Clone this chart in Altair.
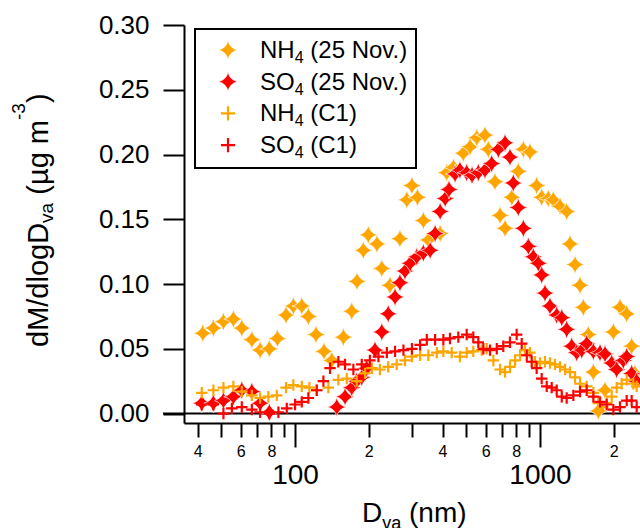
import altair as alt
import pandas as pd

# Mass size distributions (dM/dlogDva, ug m-3) versus vacuum aerodynamic diameter (nm)
nh4_nov_d = [42.0, 46.4, 51.0, 56.0, 60.6, 66.6, 72.0, 78.5, 84.7, 91.9, 98.4, 106.5, 113.3,
             121.8, 131.3, 141.2, 157.5, 170.4, 179, 190, 199, 216, 226, 244, 268, 286, 300,
             316, 334, 350, 391, 416, 443, 486, 518, 552, 596, 615, 655, 687, 720, 767, 815,
             855, 910, 969, 1016, 1081, 1133, 1207, 1285, 1326, 1390, 1457, 1502, 1574, 1651,
             1730, 1842, 1992, 2121, 2259, 2367, 2442]
nh4_nov_v = [0.062, 0.066, 0.071, 0.073, 0.066, 0.057, 0.049, 0.050, 0.058, 0.076, 0.083, 0.083,
             0.075, 0.061, 0.048, 0.041, 0.059, 0.079, 0.102, 0.126, 0.138, 0.131, 0.112, 0.099,
             0.135, 0.165, 0.176, 0.167, 0.149, 0.134, 0.139, 0.186, 0.190, 0.201, 0.206, 0.213,
             0.215, 0.204, 0.179, 0.153, 0.143, 0.167, 0.187, 0.204, 0.202, 0.176, 0.167, 0.166,
             0.165, 0.160, 0.156, 0.131, 0.115, 0.099, 0.082, 0.061, 0.032, 0.002, 0.018, 0.063,
             0.082, 0.077, 0.052, 0.031]

so4_nov_d = [41.6, 46.4, 51.0, 56.0, 60.6, 66.6, 72.0, 78.5, 148, 160, 170.4, 178.6, 187.2, 196,
             212, 226, 240, 256, 268, 281, 295, 314, 334, 356, 373, 391, 410, 425, 450, 471, 502,
             528, 560, 596, 635, 676, 720, 754, 778, 815, 855, 896, 939, 984, 1016, 1048, 1098,
             1170, 1227, 1285, 1347, 1412, 1480, 1551, 1651, 1758, 1842, 1962, 2056, 2188, 2259,
             2367, 2481]
so4_nov_v = [0.008, 0.008, 0.010, 0.013, 0.018, 0.017, 0.008, 0.001, 0.005, 0.013, 0.020, 0.025,
             0.028, 0.035, 0.049, 0.063, 0.077, 0.090, 0.101, 0.110, 0.116, 0.121, 0.124, 0.126,
             0.139, 0.156, 0.166, 0.173, 0.185, 0.188, 0.186, 0.184, 0.186, 0.188, 0.193, 0.204,
             0.209, 0.198, 0.178, 0.159, 0.143, 0.129, 0.121, 0.116, 0.107, 0.093, 0.083, 0.076,
             0.074, 0.065, 0.052, 0.047, 0.049, 0.054, 0.048, 0.047, 0.046, 0.039, 0.034, 0.041,
             0.044, 0.031, 0.025]

nh4_c1_d = [41.6, 46.4, 51.0, 56.0, 60.6, 66.6, 72.0, 77.8, 84.2, 91.9, 98.4, 106.5, 114.4, 122.6,
            136.7, 150.2, 162.6, 178.6, 193, 206, 222, 240, 260, 281, 300, 324, 350, 379, 403,
            436, 471, 502, 534, 578, 606, 645, 687, 720, 754, 791, 829, 869, 910, 954, 1000, 1048,
            1098, 1151, 1207, 1265, 1326, 1390, 1457, 1551, 1651, 1730, 1805, 1872, 1962, 2056,
            2155, 2259, 2404, 2481]
nh4_c1_v = [0.016, 0.018, 0.020, 0.021, 0.017, 0.014, 0.012, 0.013, 0.014, 0.020, 0.022, 0.021,
            0.020, 0.018, 0.020, 0.026, 0.027, 0.025, 0.031, 0.035, 0.034, 0.036, 0.038, 0.041,
            0.044, 0.045, 0.045, 0.047, 0.048, 0.047, 0.044, 0.047, 0.048, 0.049, 0.050, 0.041,
            0.034, 0.032, 0.036, 0.041, 0.045, 0.049, 0.047, 0.040, 0.039, 0.040, 0.039, 0.038,
            0.036, 0.034, 0.032, 0.028, 0.023, 0.021, 0.016, 0.008, 0.005, 0.008, 0.013, 0.020,
            0.023, 0.026, 0.023, 0.021]

so4_c1_d = [41.6, 46.4, 51.0, 55.2, 60.6, 66.6, 72.0, 78.5, 85.5, 92.5, 100, 106.5, 113.3, 122.6,
            130.5, 138.9, 150.2, 160, 173, 187.2, 202, 219, 237, 256, 277, 300, 324, 345, 373,
            403, 429, 464, 502, 534, 560, 587, 625, 666, 708, 754, 803, 842, 883, 925, 969, 1016,
            1065, 1116, 1170, 1227, 1285, 1368, 1457, 1551, 1651, 1758, 1872, 1992, 2121, 2259,
            2367, 2481]
so4_c1_v = [0.007, 0.007, 0.000, 0.004, 0.005, 0.003, 0.001, 0.000, 0.001, 0.004, 0.007, 0.009,
            0.012, 0.018, 0.025, 0.035, 0.040, 0.038, 0.034, 0.038, 0.041, 0.044, 0.047, 0.048,
            0.049, 0.050, 0.053, 0.057, 0.057, 0.057, 0.058, 0.059, 0.061, 0.059, 0.055, 0.050,
            0.049, 0.050, 0.052, 0.055, 0.061, 0.054, 0.045, 0.040, 0.035, 0.027, 0.021, 0.020,
            0.018, 0.013, 0.012, 0.014, 0.017, 0.018, 0.013, 0.009, 0.007, 0.003, 0.005, 0.010,
            0.010, 0.005]

x_ticks = [40, 50, 60, 70, 80, 90, 100, 200, 300, 400, 500, 600, 700, 800, 900, 1000, 2000]
y_ticks = [0.00, 0.05, 0.10, 0.15, 0.20, 0.25, 0.30]

ORANGE = "#FFA500"
RED = "#FF0000"
FONT = "Liberation Sans"
STAR = "M0,-1Q0.18,-0.18 1,0Q0.18,0.18 0,1Q-0.18,0.18 -1,0Q-0.18,-0.18 0,-1Z"
PLUS = "M-1,0H1M0,-1V1"
STAR_SIZE = 370
PLUS_SIZE = 130

W, H = 456, 398

x_scale = alt.Scale(type="log", domain=[35.2, 2560], nice=False)
y_scale = alt.Scale(domain=[-0.0073, 0.30], nice=False, zero=False)

major = "datum.value == 100 || datum.value == 1000"
x_axis = alt.Axis(
    values=x_ticks,
    title=None,
    grid=False,
    domainColor="black",
    domainWidth=2,
    tickColor="black",
    tickWidth=2,
    tickSize={"condition": {"test": major, "value": 24}, "value": 14},
    labelExpr=("datum.value == 100 || datum.value == 1000 ? toString(datum.value) : "
               "(indexof([40, 60, 80, 200, 400, 600, 800, 2000], datum.value) >= 0 ? "
               "substring(toString(datum.value), 0, 1) : '')"),
    labelFont=FONT,
    labelColor="black",
    labelFontSize={"condition": {"test": major, "value": 28}, "value": 16},
    labelBaseline="middle",
    labelPadding={"condition": {"test": major, "value": 28}, "value": 14},
    labelOverlap=False,
    labelFlush=False,
    labelBound=False,
)
y_axis = alt.Axis(
    values=y_ticks,
    format=".2f",
    title=None,
    grid=False,
    domainColor="black",
    domainWidth=2,
    tickColor="black",
    tickWidth=2,
    tickSize=21,
    labelFont=FONT,
    labelColor="black",
    labelFontSize=26,
    labelPadding=14,
)


def point_mark(data, shape, color, size, star):
    if star:
        return alt.Chart(data).mark_point(shape=shape, filled=True, fill=color, stroke="white",
                                          strokeWidth=0.7, size=size, opacity=1)
    return alt.Chart(data).mark_point(shape=shape, filled=False, stroke=color,
                                      strokeWidth=2.2, size=size, opacity=1)


def series(d, v, shape, color, size, star):
    df = pd.DataFrame({"d": d, "v": v})
    return point_mark(df, shape, color, size, star).encode(
        x=alt.X("d:Q", scale=x_scale, axis=x_axis),
        y=alt.Y("v:Q", scale=y_scale, axis=y_axis),
    )


one = pd.DataFrame({"k": [0]})


def text(t, x, y, size, angle=0):
    return alt.Chart(one).mark_text(
        text=t, font=FONT, fontSize=size, angle=angle, align="left",
        baseline="alphabetic", color="black"
    ).encode(x=alt.value(x), y=alt.value(y))


# horizontal zero line, continuing through the 0.00 tick
zero_line = alt.Chart(one).mark_rule(color="black", strokeWidth=2).encode(
    y=alt.Y(datum=0, scale=y_scale, axis=y_axis), x=alt.value(-21), x2=alt.value(W)
)

layers = [
    zero_line,
    series(nh4_nov_d, nh4_nov_v, STAR, ORANGE, STAR_SIZE, True),
    series(so4_nov_d, so4_nov_v, STAR, RED, STAR_SIZE, True),
    series(nh4_c1_d, nh4_c1_v, PLUS, ORANGE, PLUS_SIZE, False),
    series(so4_c1_d, so4_c1_v, PLUS, RED, PLUS_SIZE, False),
]

# legend box
layers.append(
    alt.Chart(one).mark_rect(fill="white", stroke="black", strokeWidth=2).encode(
        x=alt.value(11), x2=alt.value(232), y=alt.value(4), y2=alt.value(143)
    )
)
legend_rows = [
    ("NH", "(25 Nov.)", STAR, ORANGE, True),
    ("SO", "(25 Nov.)", STAR, RED, True),
    ("NH", "(C1)", PLUS, ORANGE, False),
    ("SO", "(C1)", PLUS, RED, False),
]
for i, (ion, rest, shape, color, star) in enumerate(legend_rows):
    cy = 25 + i * 31.7
    layers.append(
        point_mark(one, shape, color, STAR_SIZE if star else 200, star).encode(
            x=alt.value(44), y=alt.value(cy)
        )
    )
    layers.append(text(ion, 76, cy + 8, 24))
    layers.append(text("4", 110.7, cy + 13, 16))
    layers.append(text(rest, 126.3, cy + 8, 24))

# y-axis title, read bottom to top
layers += [
    text("dM/dlogD", -136, 322, 29, angle=270),
    text("va", -131, 197.9, 19, angle=270),
    text("(µg m", -136, 169.7, 29, angle=270),
    text("-3", -159, 95.0, 19, angle=270),
    text(")", -136, 78.1, 29, angle=270),
]

# x-axis title
layers += [
    text("D", 178, 497, 28),
    text("va", 198.2, 504, 18),
    text("(nm)", 225, 497, 28),
]

chart = alt.layer(*layers).properties(
    width=W,
    height=H,
    padding={"left": 184, "top": 25, "right": 0, "bottom": 105},
    autosize=alt.AutoSizeParams(type="none"),
    background="white",
).configure_view(strokeWidth=0)

chart.save("out.html", embed_options={"renderer": "svg", "actions": False})
